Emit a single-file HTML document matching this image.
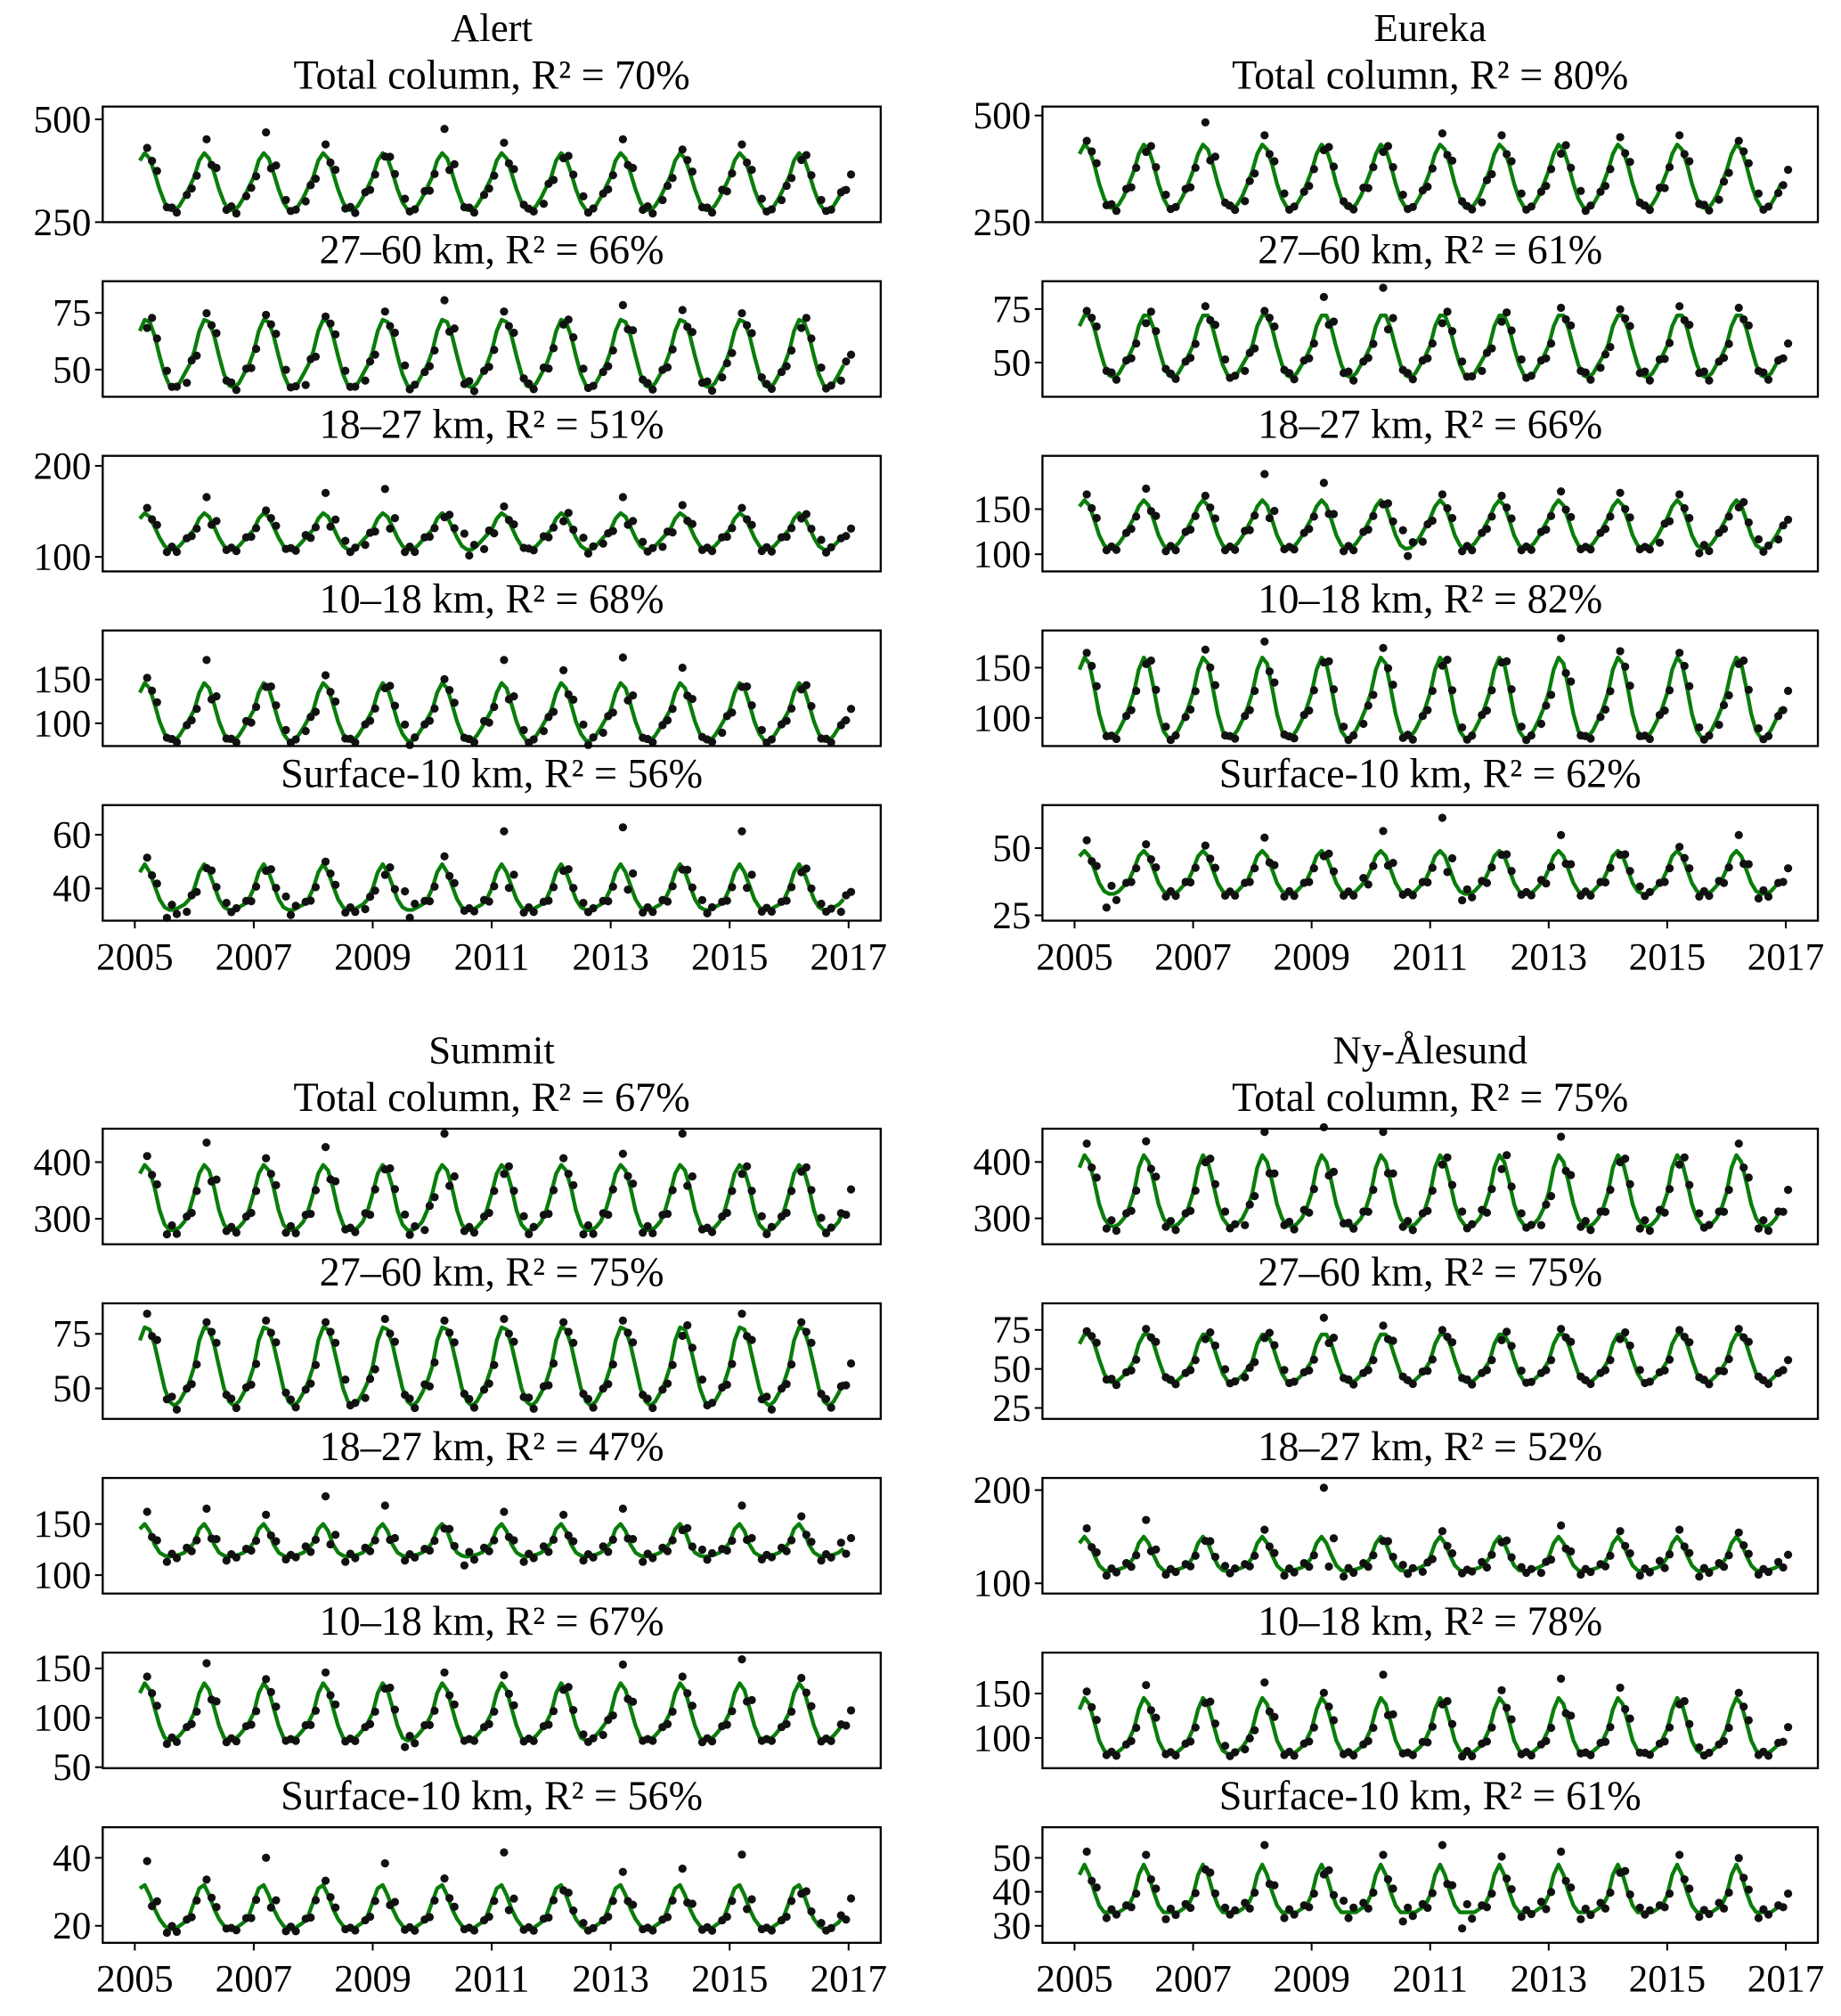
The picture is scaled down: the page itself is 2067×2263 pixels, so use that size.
<!DOCTYPE html>
<html><head><meta charset="utf-8">
<style>
html,body{margin:0;padding:0;background:#fff}
svg{display:block}
text{font-family:"Liberation Serif",serif;fill:#000}
</style></head>
<body>
<svg id="fig" width="2067" height="2263" viewBox="0 0 1434 1570" xmlns="http://www.w3.org/2000/svg"></svg>
<script>
// ---- data ----
const years = [2005,2007,2009,2011,2013,2015,2017];
const stations = ["Alert","Eureka","Summit","Ny-Ålesund"];
const layers = ["Total column","27–60 km","18–27 km","10–18 km","Surface-10 km"];
const r2Alert = [70,66,51,68,56];
const r2Eureka = [80,61,66,82,62];
const r2Summit = [67,75,47,67,56];
const r2Ny = [75,75,52,78,61];
// monthly fit climatology (Jan..Dec) per panel
const fitAlert = [
 [360,400,418,405,370,330,298,280,278,290,310,335],
 [58,67,72,71,65,56,48,43,42,44,48,52],
 [130,142,148,144,133,121,112,108,108,112,118,124],
 [115,135,146,140,122,102,88,80,80,86,95,105],
 [40,46,49,46,41,36,33,32,32,33,34,36]];
const fitEureka = [
 [370,410,432,420,385,340,305,285,282,292,312,340],
 [58,67,72,72,66,57,49,44,43,45,49,53],
 [140,153,160,154,138,121,110,106,107,112,120,130],
 [125,148,160,154,130,104,87,80,81,88,98,110],
 [42,47,49,47,42,37,34,33,33,34,36,38]];
const fitSummit = [
 [345,380,395,385,355,315,290,280,280,285,295,315],
 [60,72,78,77,70,60,50,44,42,44,48,53],
 [132,145,150,143,130,122,119,118,119,120,122,126],
 [105,125,135,128,110,92,80,77,78,82,88,95],
 [27,31,32,29,25,22,20,19,19,20,21,23]];
const fitNy = [
 [345,390,412,400,365,325,300,288,285,290,300,318],
 [55,66,72,72,66,56,47,42,41,43,46,50],
 [128,143,150,143,130,119,114,113,114,115,117,120],
 [110,132,145,138,118,97,86,82,82,85,90,98],
 [39,45,48,45,40,36,34,34,34,34,35,36]];
const fits = [fitAlert,fitEureka,fitSummit,fitNy];
// observation residuals (% of fit) at months Mar, Jul, Nov of each year
const resAlert = [
 [3,-4,2,8,-6,1,12,2,-3,5,-5,4,-2,3,5,14,-4,2,6,-2,-5,-3,5,3,8,-6,-2,2,-4,6,5,3,-2,-4,2,4],
 [-5,3,-8,4,-6,5,3,4,-10,2,3,-6,5,8,2,12,-9,3,5,-4,6,-3,5,2,9,-5,4,6,-8,-3,4,-3,2,-5,6,-6],
 [4,-6,2,12,-4,3,2,-3,5,15,5,-4,18,-6,3,-3,12,-8,5,-2,4,-6,8,-3,12,4,-6,6,-4,3,4,-5,3,-4,6,2],
 [4,-5,3,18,-6,8,-3,5,-4,6,-6,4,-4,12,4,3,-5,8,18,5,-4,10,12,-6,20,-5,3,12,-4,-6,-3,5,4,-5,-6,3],
 [5,-12,-8,-3,5,4,-5,12,3,2,-6,-5,-8,18,4,6,-4,5,25,-6,3,-5,5,4,28,-6,5,-4,8,3,25,-5,3,-6,4,-8]];
const resEureka = [
 [2,-5,5,-4,3,5,12,-3,-4,5,4,3,-3,-2,6,-4,3,4,6,-2,-5,5,4,3,-5,6,3,4,-3,6,5,-4,-3,2,4,2],
 [3,-6,4,-5,-4,3,6,5,-6,3,-5,4,12,-8,3,18,-5,4,-5,3,-6,-4,5,4,5,-6,-3,4,-8,5,6,-8,3,5,-6,4],
 [4,-5,3,8,-6,4,3,-5,5,18,-4,3,12,-6,4,-3,15,-5,4,-6,3,3,-5,4,6,-4,3,5,-4,-6,4,-8,3,-5,6,-3],
 [3,-6,4,-4,5,3,5,-5,4,10,-4,5,-3,5,-4,6,-8,4,-5,4,5,-3,5,-4,12,-5,3,4,-6,5,3,4,-5,-4,3,4],
 [8,-18,3,5,-6,4,4,-5,3,10,-6,3,-4,-5,8,15,-4,4,25,-10,5,-3,-4,6,12,-5,4,-3,5,3,3,-6,5,12,-8,3]];
const resSummit = [
 [4,-6,3,10,-4,3,3,-5,4,8,-3,5,-2,6,-5,14,-4,3,-4,5,4,3,-6,5,5,-5,4,14,-3,3,-4,5,3,-3,4,5],
 [8,-10,4,3,-6,5,4,-4,3,3,8,-5,5,-6,8,4,-5,3,5,-8,6,3,-5,4,4,-6,3,-5,8,5,8,-10,4,3,-5,6],
 [8,-5,4,10,-4,3,6,-3,5,18,-5,4,12,-4,3,-3,-8,4,8,-5,5,6,-4,5,10,-5,4,-4,5,3,12,-3,4,5,-4,8],
 [5,-8,3,15,-6,4,3,-4,5,8,-5,3,-4,-12,5,8,-4,3,6,-5,4,-5,4,-6,14,-4,3,5,-6,4,18,-4,3,4,-5,6],
 [22,-10,4,5,-4,6,25,-8,5,4,-5,3,20,-6,4,6,-5,3,30,-6,5,-5,4,3,12,-5,4,15,-6,3,28,-5,3,-8,4,10]];
const resNy = [
 [5,-6,3,6,-5,3,-3,4,-4,10,-4,5,12,-3,4,10,-5,3,-4,4,5,-6,3,-4,8,-5,4,-3,-6,5,-4,3,4,5,-6,4],
 [3,-8,4,5,-5,3,-4,6,-3,-3,5,4,15,-6,3,8,-4,5,4,-6,3,-5,4,3,5,-4,3,-4,5,4,4,-5,6,5,-4,3],
 [6,-5,4,12,-4,3,-3,4,3,5,-5,4,35,-6,4,-3,5,-4,4,-3,5,-4,3,-5,8,-4,3,4,-5,6,5,-6,4,3,-4,5],
 [5,-6,3,10,-5,4,-4,6,-3,12,-6,4,4,-5,3,18,-4,6,-5,-8,4,6,-5,3,15,-4,5,8,-3,4,-5,4,3,4,-6,5],
 [8,-5,3,6,-6,4,-3,4,5,12,-5,3,-6,10,5,6,-8,4,12,-14,3,5,-4,6,8,-6,5,-5,4,3,6,-4,5,4,-5,3]];
const ress = [resAlert,resEureka,resSummit,resNy];
const r2s = [r2Alert,r2Eureka,r2Summit,r2Ny];
// y-axis tick labels per panel
const ticksAlert = [[250,500],[50,75],[100,200],[100,150],[40,60]];
const ticksEureka = [[250,500],[50,75],[100,150],[100,150],[25,50]];
const ticksSummit = [[300,400],[50,75],[100,150],[50,100,150],[20,40]];
const ticksNy = [[300,400],[25,50,75],[100,200],[100,150],[30,40,50]];
const tickSets = [ticksAlert,ticksEureka,ticksSummit,ticksNy];
// y-axis domains [min,max] per panel
const domAlert = [[250,531],[38,89],[84,211],[74,206],[28,71]];
const domEureka = [[250,521],[34,88],[81,209],[72,187],[23,66]];
const domSummit = [[255,459],[36,89],[82,195],[49,166],[15,49]];
const domNy = [[254,459],[18,92],[89,213],[66,196],[25,59]];
const doms = [domAlert,domEureka,domSummit,domNy];

// ---- layout ----
const NS="http://www.w3.org/2000/svg";
const svg=document.getElementById('fig');
function mk(tag,attrs,parent){const e=document.createElementNS(NS,tag);for(const k in attrs)e.setAttribute(k,attrs[k]);(parent||svg).appendChild(e);return e;}
const colX=[[80,686],[812,1416]];
const groupTop=[83,879];
const panelH=90, panelStep=136;
const x0=2005, x1=2017;
stations.forEach((st,si)=>{
  const col=si%2, grp=Math.floor(si/2);
  const [L,R]=colX[col];
  const xs=v=>L+25+(v-x0)*(R-L-50)/(x1-x0);
  const cx=(L+R)/2;
  const g=mk('g',{});
  
  
  const t=mk('text',{x:cx,y:groupTop[grp]-51,'text-anchor':'middle','font-size':31},g);
  t.textContent=st;
  
  
  layers.forEach((ly,li)=>{
    const top=groupTop[grp]+li*panelStep, bot=top+panelH;
    const [dmin,dmax]=doms[si][li];
    const ys=v=>bot-(v-dmin)*(bot-top)/(dmax-dmin);
    const pg=mk('g',{},g);
    
    
    const st2=mk('text',{x:cx,y:top-14,'text-anchor':'middle','font-size':32},pg);
    st2.textContent=ly+', R² = '+r2s[si][li]+'%';
    
    
    const fit=fits[si][li];
    let d='';
    for(let m=1;m<=143;m++){const v=fit[m%12];const xv=x0+m/12;d+=(m===1?'M':'L')+xs(xv).toFixed(1)+','+ys(v).toFixed(1);}
    const ln=mk('path',{d:d,fill:'none',stroke:'#0a7d0a','stroke-width':3,'stroke-linejoin':'round'},pg);
    
    
    const res=ress[si][li];
    const months=[2,6,10];
    res.forEach((r,i)=>{
      const yr=Math.floor(i/3), mo=months[i%3];
      const v=fit[mo]*(1+r/100);
      const c=mk('circle',{cx:xs(x0+yr+mo/12+0.04).toFixed(1),cy:ys(v).toFixed(1),r:3.2,fill:'#111'},pg);
      
      
    });
    res.forEach((r,i)=>{
      const yr=Math.floor(i/3), mo=(months[i%3]+1)%12;
      const v=fit[mo]*(1-r/200);
      const c=mk('circle',{cx:xs(x0+yr+(months[i%3]+1)/12+0.04).toFixed(1),cy:ys(v).toFixed(1),r:3.2,fill:'#111'},pg);
      
      
    });
    res.forEach((r,i)=>{
      const yr=Math.floor(i/3), mo=(months[i%3]+2)%12;
      const v=fit[mo]*(1+r/250);
      const c=mk('circle',{cx:xs(x0+yr+(months[i%3]+2)/12+0.04).toFixed(1),cy:ys(v).toFixed(1),r:3.2,fill:'#111'},pg);
      
      
    });
    const fr=mk('rect',{x:L,y:top,width:R-L,height:panelH,fill:'none',stroke:'#000','stroke-width':1.6},pg);
    
    
    tickSets[si][li].forEach(tv=>{
      const y=ys(tv);
      mk('line',{x1:L-6,x2:L,y1:y,y2:y,stroke:'#000','stroke-width':1.4},pg);
      const tl=mk('text',{x:L-9,y:y+10,'text-anchor':'end','font-size':30},pg);
      tl.textContent=tv;
      
      
    });
    if(li===4){
      years.forEach(yv=>{
        const x=xs(yv);
        mk('line',{x1:x,x2:x,y1:bot,y2:bot+6,stroke:'#000','stroke-width':1.4},pg);
        const xl=mk('text',{x:x,y:bot+38,'text-anchor':'middle','font-size':30},pg);
        xl.textContent=yv;
        
        
      });
    }
  });
});
</script>
</body></html>
